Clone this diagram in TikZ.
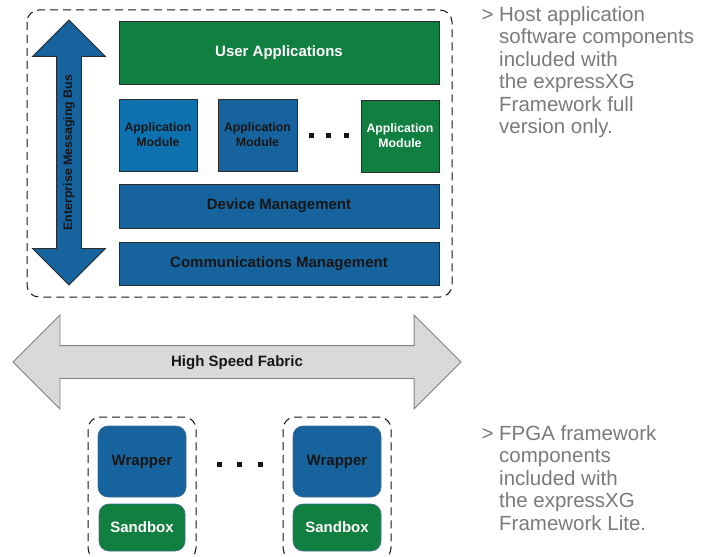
\documentclass[tikz,border=0pt]{standalone}
\usepackage{fontspec}
\setmainfont{Liberation Sans}
\usetikzlibrary{shapes.arrows}
\definecolor{XGGreen}{HTML}{107F3F}
\definecolor{XGBlue}{HTML}{16639D}
\definecolor{XGLightBlue}{HTML}{0D71AF}
\definecolor{XGEdge}{HTML}{2B2B2B}
\definecolor{XGInk}{HTML}{161616}
\definecolor{XGGray}{HTML}{7A7A7A}
\definecolor{XGFabric}{HTML}{D9D9D9}

\begin{document}
\begin{tikzpicture}[x=1pt,y=-1pt,
  every node/.style={font=\fontsize{15}{18}\selectfont\bfseries,text=XGInk},
  layer/.style={draw=XGEdge,line width=0.8pt,minimum width=320pt},
  module/.style={draw=XGEdge,line width=0.8pt,minimum width=78pt,minimum height=72pt,align=center,inner sep=0pt,font=\fontsize{12.3}{15}\selectfont\bfseries},
  slot/.style={draw=XGBlue!60!gray,line width=0.6pt,rounded corners=10pt,minimum width=88pt,inner sep=0pt},
  frame/.style={draw=XGInk,dash pattern=on 8pt off 5pt,line width=1pt,rounded corners=12pt},
  note/.style={align=left,inner sep=0pt,anchor=north west,text=XGGray,font=\fontsize{20.5}{22.5}\selectfont}]
  \clip (0,0) rectangle (703,556);

  % host side
  \draw[frame] (27,10) rectangle (452,297);
  \node[layer,fill=XGGreen,minimum height=63pt,text=white] (userapps) at (279,52.5) {User Applications};
  \node[module,fill=XGLightBlue] (modA) at (158,135) {Application\\Module};
  \node[module,fill=XGBlue,minimum width=79pt] (modB) at (257.5,135) {Application\\Module};
  \node[module,fill=XGGreen,text=white] (modC) at (400,136) {Application\\Module};
  \foreach \x in {311,328,346}
    \fill[XGInk] (\x-2.5,133.5) rectangle (\x+2.5,138.5);
  \node[layer,fill=XGBlue,minimum height=44pt] (devmgmt) at (279,206) {Device Management};
  \node[layer,fill=XGBlue,minimum height=43pt] (commgmt) at (279,263.5) {Communications Management};
  \node[double arrow,rotate=90,draw=XGEdge,line width=0.8pt,fill=XGBlue,
        minimum height=265pt,text height=8.5pt,text depth=2.5pt,inner xsep=0pt,inner ysep=6.5pt,
        double arrow head extend=24pt,double arrow head indent=0pt,
        font=\fontsize{12.4}{14}\selectfont\bfseries] (bus) at (69,152.5) {Enterprise Messaging Bus};

  % fabric between host and FPGA
  \node[double arrow,draw=gray,line width=0.8pt,fill=XGFabric,
        minimum height=448pt,text height=11pt,text depth=3pt,inner xsep=0pt,inner ysep=9pt,
        double arrow head extend=30.5pt,double arrow head indent=0pt] (fabric) at (237,362) {High Speed Fabric};

  % FPGA side
  \draw[frame] (88,417) rectangle (196,560);
  \draw[frame] (283,417) rectangle (391,560);
  \node[slot,fill=XGBlue,minimum height=71pt] (wrapA) at (142,461.5) {Wrapper};
  \node[slot,fill=XGGreen,minimum width=86pt,minimum height=47pt,text=white] (sandA) at (142,527.5) {Sandbox};
  \node[slot,fill=XGBlue,minimum height=71pt] (wrapB) at (337,461.5) {Wrapper};
  \node[slot,fill=XGGreen,minimum width=88pt,minimum height=47pt,text=white] (sandB) at (337,527.5) {Sandbox};
  \foreach \x in {219,239,260}
    \fill[XGInk] (\x-2.5,461.5) rectangle (\x+2.5,466.5);

  % side notes
  \node[note] (hostnote) at (499,6) {\llap{>\ }Host application\\software components\\included with\\the expressXG\\Framework full\\version only.};
  \node[note] (fpganote) at (499,425) {\llap{>\ }FPGA framework\\components\\included with\\the expressXG\\Framework Lite.};
\end{tikzpicture}
\end{document}
